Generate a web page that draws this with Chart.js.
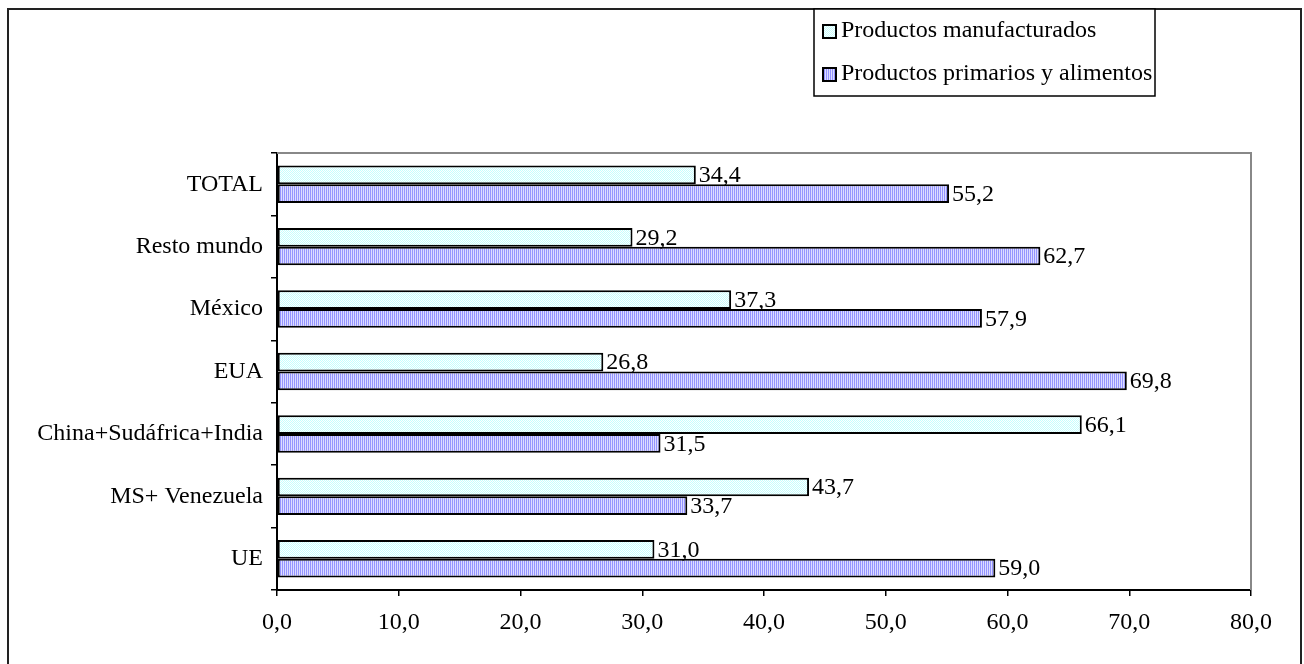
<!DOCTYPE html>
<html>
<head>
<meta charset="utf-8">
<script src="https://cdn.jsdelivr.net/npm/chart.js@4.4.0/dist/chart.umd.min.js"></script>
<style>
  html, body { margin: 0; padding: 0; background: #fff; }
  #wrap { width: 1304px; height: 664px; position: relative; }
</style>
</head>
<body>
<div id="wrap"><canvas id="chart" width="1304" height="664"></canvas></div>
<script>
// data
const categories = ["TOTAL", "Resto mundo", "México", "EUA", "China+Sudáfrica+India", "MS+ Venezuela", "UE"];
const manufacturados = [34.4, 29.2, 37.3, 26.8, 66.1, 43.7, 31.0];
const primarios = [55.2, 62.7, 57.9, 69.8, 31.5, 33.7, 59.0];
const seriesNames = ["Productos manufacturados", "Productos primarios y alimentos"];
const xTicks = [0, 10, 20, 30, 40, 50, 60, 70, 80];

const serif = "'Liberation Serif', 'DejaVu Serif', serif";
const fontSize = 24;

// little fill patterns like the old spreadsheet ones
function makePattern(kind) {
  const c = document.createElement('canvas');
  c.width = 2; c.height = 2;
  const g = c.getContext('2d');
  g.fillStyle = '#fff';
  g.fillRect(0, 0, 2, 2);
  if (kind === 'checker') {
    g.fillStyle = '#c4ffff';
    g.fillRect(0, 0, 1, 1);
    g.fillRect(1, 1, 1, 1);
  } else {
    g.fillStyle = '#9494ff';
    g.fillRect(0, 0, 1, 2);
    g.fillStyle = '#dcdcff';
    g.fillRect(1, 0, 1, 2);
  }
  return g.createPattern(c, 'repeat');
}
const fillManuf = makePattern('checker');
const fillPrim = makePattern('stripes');

const fmt = v => v.toFixed(1).replace('.', ',');

// frame, plot border, legend box and value labels
const extras = {
  id: 'extras',
  beforeDraw(chart) {
    const ctx = chart.ctx;
    ctx.save();
    ctx.fillStyle = '#fff';
    ctx.fillRect(0, 0, chart.width, chart.height);
    ctx.restore();
  },
  afterDatasetsDraw(chart) {
    const ctx = chart.ctx;
    ctx.save();
    ctx.font = fontSize + 'px ' + serif;
    ctx.fillStyle = '#000';
    ctx.textBaseline = 'middle';
    ctx.textAlign = 'left';
    chart.data.datasets.forEach((ds, i) => {
      chart.getDatasetMeta(i).data.forEach((bar, j) => {
        ctx.fillText(fmt(ds.data[j]), bar.x + 3, bar.y + 1);
      });
    });
    ctx.restore();
  },
  afterDraw(chart) {
    const ctx = chart.ctx;
    const a = chart.chartArea;
    ctx.save();
    // plot area top / right border
    ctx.strokeStyle = '#888';
    ctx.lineWidth = 2;
    ctx.beginPath();
    ctx.moveTo(a.left, a.top);
    ctx.lineTo(a.right, a.top);
    ctx.lineTo(a.right, a.bottom);
    ctx.stroke();

    // outer frame
    ctx.strokeStyle = '#222';
    ctx.lineWidth = 2;
    ctx.strokeRect(8, 9, 1293, 720);

    // legend
    ctx.strokeStyle = '#000';
    ctx.lineWidth = 1.5;
    ctx.fillStyle = '#fff';
    ctx.fillRect(814, 9, 341, 87);
    ctx.strokeRect(814, 9, 341, 87);
    const fills = [fillManuf, fillPrim];
    ctx.font = fontSize + 'px ' + serif;
    ctx.textBaseline = 'middle';
    seriesNames.forEach((name, i) => {
      const y = 31 + i * 43;
      ctx.fillStyle = fills[i];
      ctx.fillRect(823, y - 6, 13, 13);
      ctx.lineWidth = 2;
      ctx.strokeRect(823, y - 6, 13, 13);
      ctx.fillStyle = '#000';
      ctx.fillText(name, 841, y);
    });
    ctx.restore();
  }
};

new Chart(document.getElementById('chart'), {
  type: 'bar',
  data: {
    labels: categories,
    datasets: [
      { label: seriesNames[0], data: manufacturados, backgroundColor: fillManuf, borderColor: '#000', borderWidth: 2, borderSkipped: false },
      { label: seriesNames[1], data: primarios, backgroundColor: fillPrim, borderColor: '#000', borderWidth: 2, borderSkipped: false }
    ]
  },
  options: {
    indexAxis: 'y',
    responsive: false,
    animation: false,
    events: [],
    layout: { padding: { left: 0, top: 153, right: 53, bottom: 0 } },
    datasets: { bar: { categoryPercentage: 0.6, barPercentage: 1.0 } },
    plugins: { legend: { display: false }, tooltip: { enabled: false } },
    scales: {
      x: {
        min: 0, max: 80,
        afterBuildTicks(scale) { scale.ticks = xTicks.map(v => ({ value: v })); },
        afterFit(scale) { scale.height = 74; },
        grid: { drawOnChartArea: false, drawTicks: true, tickLength: 6, color: '#000', lineWidth: 1.5 },
        border: { color: '#000', width: 2 },
        ticks: { color: '#000', padding: 12, font: { family: serif, size: fontSize }, callback: v => fmt(v), maxRotation: 0 }
      },
      y: {
        afterFit(scale) { scale.width = 277; },
        grid: { drawOnChartArea: false, drawTicks: true, tickLength: 6, color: '#000', lineWidth: 1.5, offset: true },
        border: { color: '#000', width: 2 },
        ticks: { color: '#000', padding: 8, font: { family: serif, size: fontSize } }
      }
    }
  },
  plugins: [extras]
});
</script>
</body>
</html>
